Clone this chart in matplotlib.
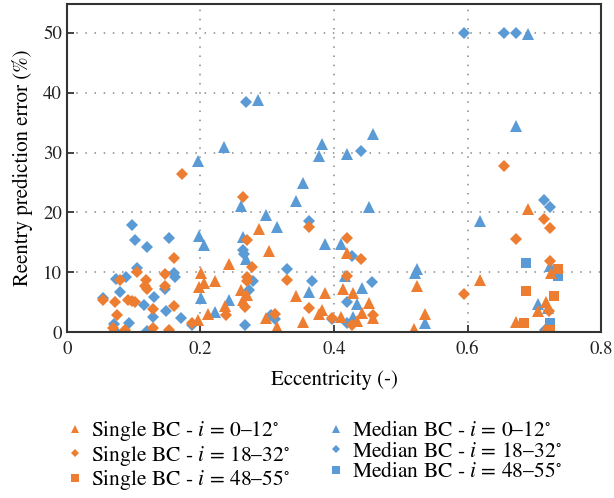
import matplotlib
matplotlib.use("Agg")
import matplotlib.pyplot as plt

plt.rcParams['font.family'] = ['STIXGeneral', 'DejaVu Serif']
plt.rcParams['mathtext.fontset'] = 'stix'

orange = '#ED7D31'
blue = '#5B9BD5'

# Single BC, i = 0-12 deg
s1_x = [0.196, 0.198, 0.201, 0.206, 0.211, 0.222, 0.236, 0.243, 0.261, 0.264, 0.270, 0.287,
        0.298, 0.303, 0.315, 0.343, 0.353, 0.378, 0.382, 0.387, 0.411, 0.414, 0.419, 0.429,
        0.435, 0.442, 0.452, 0.459, 0.520, 0.525, 0.536, 0.618, 0.672, 0.690, 0.705, 0.716,
        0.718, 0.725]
s1_y = [2.0, 7.5, 9.8, 8.2, 3.0, 8.5, 4.3, 11.4, 7.0, 5.4, 6.2, 17.2,
        2.3, 13.6, 0.8, 6.0, 1.7, 3.0, 3.7, 6.5, 2.5, 7.2, 13.2, 6.5,
        1.9, 3.2, 4.9, 2.3, 0.6, 7.7, 3.0, 8.7, 1.7, 20.5, 3.5, 0.3,
        5.0, 9.8]

# Single BC, i = 18-32 deg
s2_x = [0.054, 0.069, 0.072, 0.075, 0.080, 0.087, 0.092, 0.097, 0.102, 0.105, 0.117, 0.119,
        0.120, 0.129, 0.129, 0.147, 0.147, 0.153, 0.160, 0.161, 0.172, 0.188, 0.238, 0.264,
        0.267, 0.270, 0.270, 0.270, 0.277, 0.312, 0.330, 0.362, 0.363, 0.397, 0.420, 0.420,
        0.427, 0.440, 0.459, 0.594, 0.655, 0.673, 0.714, 0.722, 0.722, 0.723, 0.723]
s2_y = [5.4, 0.7, 5.0, 2.8, 8.7, 0.3, 5.4, 5.2, 5.0, 10.0, 7.7, 8.7,
        7.2, 3.8, 0.7, 9.7, 7.7, 0.3, 12.4, 4.3, 26.4, 1.5, 2.8, 22.6,
        4.2, 15.4, 9.2, 8.5, 10.9, 3.1, 8.7, 17.6, 4.0, 2.3, 15.7, 9.4,
        1.2, 12.2, 2.8, 6.3, 27.8, 15.5, 18.9, 3.5, 0.3, 17.4, 11.9]

# Single BC, i = 48-55 deg
s3_x = [0.684, 0.687, 0.723, 0.729, 0.735]
s3_y = [1.5, 6.8, 0.4, 6.0, 10.5]

# Median BC, i = 0-12 deg
m1_x = [0.196, 0.198, 0.201, 0.205, 0.222, 0.235, 0.243, 0.261, 0.263, 0.268, 0.286, 0.298,
        0.315, 0.343, 0.353, 0.362, 0.378, 0.382, 0.387, 0.411, 0.416, 0.420, 0.429, 0.435,
        0.442, 0.452, 0.459, 0.522, 0.525, 0.536, 0.618, 0.673, 0.690, 0.705, 0.720, 0.723]
m1_y = [28.6, 16.0, 5.7, 14.5, 3.3, 31.0, 5.4, 21.1, 15.9, 12.2, 38.8, 19.6,
        17.6, 21.9, 24.9, 6.7, 29.4, 31.4, 14.7, 14.7, 9.4, 29.8, 2.5, 4.7,
        7.3, 20.9, 33.1, 9.9, 10.5, 1.5, 18.5, 34.4, 49.8, 4.7, 4.0, 11.0]

# Median BC, i = 18-32 deg
m2_x = [0.054, 0.070, 0.072, 0.074, 0.080, 0.088, 0.093, 0.097, 0.102, 0.105, 0.116, 0.120,
        0.120, 0.129, 0.130, 0.147, 0.148, 0.153, 0.160, 0.162, 0.171, 0.188, 0.264, 0.265,
        0.266, 0.268, 0.272, 0.278, 0.306, 0.311, 0.330, 0.362, 0.367, 0.397, 0.419, 0.420,
        0.427, 0.440, 0.457, 0.594, 0.655, 0.673, 0.714, 0.716, 0.723]
m2_y = [5.7, 1.3, 0.2, 8.8, 6.7, 9.2, 1.6, 17.9, 15.4, 10.7, 4.5, 14.3,
        0.2, 2.5, 5.9, 7.2, 3.5, 15.7, 9.9, 9.2, 2.3, 1.2, 13.7, 13.0,
        1.2, 38.5, 7.0, 8.5, 2.8, 2.2, 10.5, 18.6, 8.5, 2.2, 5.0, 1.5,
        12.7, 30.3, 8.4, 50.0, 50.0, 50.0, 22.1, 0.3, 20.9]

# Median BC, i = 48-55 deg
m3_x = [0.684, 0.687, 0.723, 0.735]
m3_y = [1.5, 11.5, 1.5, 9.4]

fig = plt.figure(figsize=(6.14, 4.98), dpi=100)
ax = fig.add_axes([0.109, 0.333, 0.870, 0.659])

hm1, = ax.plot(m1_x, m1_y, '^', color=blue, ms=8.5, mew=0, label=r'Median BC - $i$ = 0–12$^{\circ}$')
hm2, = ax.plot(m2_x, m2_y, 'D', color=blue, ms=6.5, mew=0, label=r'Median BC - $i$ = 18–32$^{\circ}$')
hm3, = ax.plot(m3_x, m3_y, 's', color=blue, ms=7.5, mew=0, label=r'Median BC - $i$ = 48–55$^{\circ}$')
hs1, = ax.plot(s1_x, s1_y, '^', color=orange, ms=8.5, mew=0, label=r'Single BC - $i$ = 0–12$^{\circ}$')
hs2, = ax.plot(s2_x, s2_y, 'D', color=orange, ms=6.5, mew=0, label=r'Single BC - $i$ = 18–32$^{\circ}$')
hs3, = ax.plot(s3_x, s3_y, 's', color=orange, ms=7.5, mew=0, label=r'Single BC - $i$ = 48–55$^{\circ}$')

ax.set_xlim(0, 0.8)
ax.set_ylim(0, 54.8)
ax.set_xticks([0, 0.2, 0.4, 0.6, 0.8])
ax.set_xticklabels(['0', '0.2', '0.4', '0.6', '0.8'])
ax.set_yticks([0, 10, 20, 30, 40, 50])
ax.grid(True, color='#888888', linestyle=(0, (1, 5)), linewidth=1.1)
ax.tick_params(direction='in', length=5, width=1.2, labelsize=13.5, colors='#222222')
ax.tick_params(axis='x', pad=6)
for sp in ax.spines.values():
    sp.set_color('#333333')
    sp.set_linewidth(1.5)

ax.set_xlabel('Eccentricity (-)', fontsize=15, labelpad=9)
ax.set_ylabel('Reentry prediction error (%)', fontsize=15, labelpad=7)

fig.legend(handles=[hs1, hs2, hs3, hm1, hm2, hm3], ncol=2, loc='upper left',
           bbox_to_anchor=(0.105, 0.158), frameon=False, fontsize=15.5,
           borderaxespad=0, borderpad=0,
           handlelength=1.0, handletextpad=0.25, columnspacing=1.6,
           labelspacing=0.02, markerscale=0.7)

fig.savefig('out.png', dpi=100)
